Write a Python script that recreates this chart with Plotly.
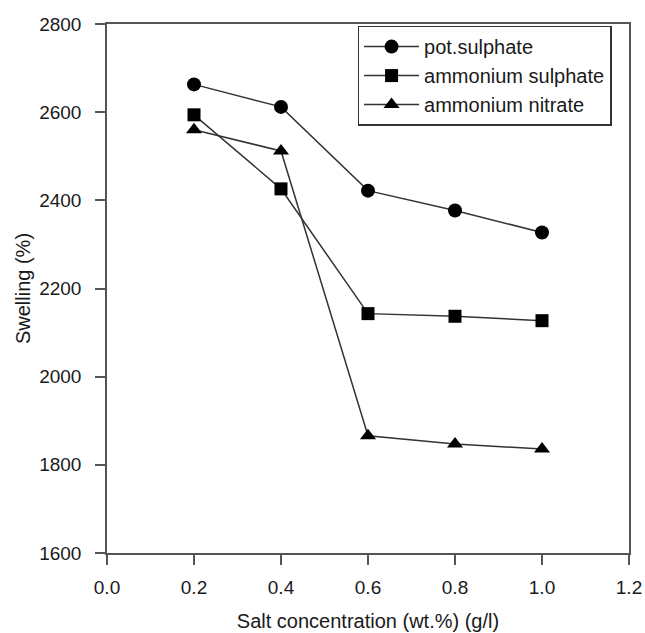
import plotly.graph_objects as go

conc = [0.2, 0.4, 0.6, 0.8, 1.0]
pot_sulphate = [2663, 2612, 2422, 2377, 2327]
ammonium_sulphate = [2594, 2426, 2143, 2137, 2127]
ammonium_nitrate = [2560, 2512, 1866, 1847, 1836]

x_ticks = [0.0, 0.2, 0.4, 0.6, 0.8, 1.0, 1.2]
y_ticks = [1600, 1800, 2000, 2200, 2400, 2600, 2800]

FONT = "Liberation Sans, Arial, sans-serif"
LINE = "#333333"
TXT = "#1a1a1a"

fig = go.Figure()
series = [
    ("pot.sulphate", pot_sulphate, "circle", 14),
    ("ammonium sulphate", ammonium_sulphate, "square", 13),
    ("ammonium nitrate", ammonium_nitrate, "triangle-up", 14),
]
for name, vals, sym, sz in series:
    fig.add_trace(go.Scatter(
        x=conc, y=vals, name=name, mode="lines+markers",
        line=dict(color=LINE, width=1.5),
        marker=dict(symbol=sym, size=sz, color="black"),
    ))

axis_common = dict(
    showline=True, linecolor="#555555", linewidth=1.5, mirror=True,
    ticks="outside", ticklen=10, tickwidth=1.5, tickcolor="#555555",
    showgrid=False, zeroline=False, automargin=False,
    tickfont=dict(family=FONT, size=19, color=TXT),
)

fig.update_layout(
    width=645, height=633,
    margin=dict(l=107, r=16, t=24, b=80),
    paper_bgcolor="white", plot_bgcolor="white",
    font=dict(family=FONT, size=19, color=TXT),
    showlegend=True,
    legend=dict(
        x=0.48, y=0.997, xanchor="left", yanchor="top",
        bordercolor="#333333", borderwidth=1.5, bgcolor="white",
        font=dict(family=FONT, size=20, color=TXT),
        tracegroupgap=0, itemsizing="trace", itemwidth=55,
    ),
    xaxis=dict(
        range=[0.0, 1.2], tickvals=x_ticks,
        ticktext=[f"{v:.1f}" for v in x_ticks],
        ticklabelstandoff=6,
        title=dict(text="Salt concentration (wt.%) (g/l)", standoff=17,
                   font=dict(family=FONT, size=20, color=TXT)),
        **axis_common,
    ),
    yaxis=dict(
        range=[1600, 2800], tickvals=y_ticks,
        ticklabelstandoff=10,
        title=dict(text="Swelling (%)", standoff=3,
                   font=dict(family=FONT, size=20, color=TXT)),
        **axis_common,
    ),
)

fig.write_html("out.html")
